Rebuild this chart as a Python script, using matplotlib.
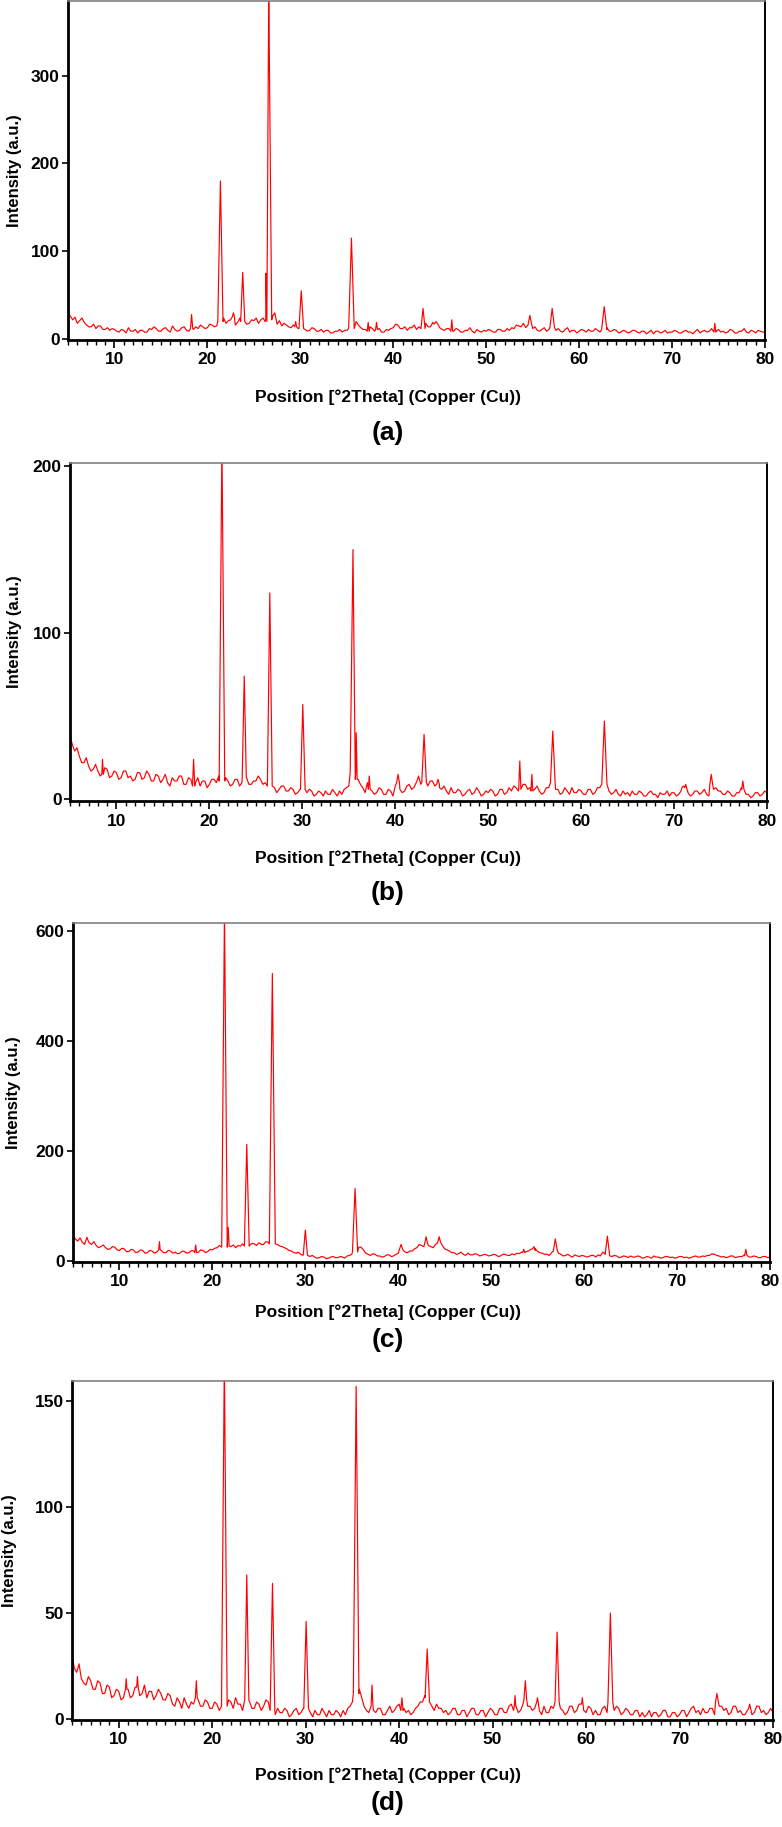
import matplotlib
matplotlib.use("Agg")
import matplotlib.pyplot as plt
import numpy as np
from matplotlib.ticker import MultipleLocator

plt.rcParams['font.family'] = ['Liberation Sans', 'DejaVu Sans']
plt.rcParams['font.weight'] = 'bold'

W, H = 782, 1827

# scan grid (deg 2theta), background counts read every 0.25 deg
two_theta = np.arange(5.0, 80.001, 0.25)

# ---- (a)
bg_a = [30, 26, 22, 25, 18, 21, 24, 19, 16, 14, 14, 17, 12, 15, 15, 11, 11, 13, 10, 12,
        11, 9, 8, 11, 10, 7, 13, 9, 9, 11, 7, 10, 10, 8, 8, 12, 11, 14, 12, 9,
        9, 12, 13, 10, 8, 15, 11, 9, 10, 13, 14, 10, 9, 12, 11, 14, 12, 16, 14, 12,
        13, 17, 16, 14, 15, 18, 20, 24, 18, 21, 22, 26, 16, 19, 24, 20, 19, 17, 18, 22,
        21, 24, 18, 22, 24, 20, 22, 28, 26, 30, 17, 21, 15, 18, 16, 14, 13, 16, 14, 12,
        12, 14, 11, 9, 10, 13, 12, 9, 9, 11, 8, 10, 10, 7, 7, 9, 9, 11, 8, 10,
        10, 13, 12, 18, 20, 16, 13, 11, 11, 9, 14, 12, 9, 11, 12, 8, 8, 11, 10, 12,
        13, 17, 16, 12, 12, 14, 10, 13, 13, 16, 11, 14, 15, 12, 18, 14, 14, 19, 17, 13,
        13, 11, 10, 12, 12, 9, 9, 12, 11, 8, 8, 10, 10, 13, 9, 7, 11, 9, 8, 10,
        9, 11, 10, 8, 8, 11, 11, 9, 9, 12, 10, 13, 12, 16, 15, 14, 18, 13, 16, 19,
        12, 14, 10, 9, 11, 13, 9, 11, 13, 10, 10, 12, 9, 8, 11, 13, 8, 10, 10, 7,
        9, 11, 10, 8, 11, 9, 9, 12, 10, 8, 8, 11, 13, 9, 9, 11, 10, 7, 8, 10,
        9, 7, 8, 10, 10, 8, 7, 9, 9, 6, 8, 10, 6, 9, 9, 7, 8, 10, 7, 8,
        8, 10, 9, 7, 7, 9, 10, 8, 8, 6, 9, 11, 7, 9, 10, 8, 9, 12, 8, 9,
        11, 8, 9, 7, 8, 11, 10, 7, 7, 9, 9, 12, 8, 7, 10, 9, 7, 10, 9, 8,
        8]
pos_a = [18.3, 21.4, 22.8, 23.8, 26.3, 26.6, 29.5, 30.1, 35.5, 37.3, 38.2,
         43.2, 44.6, 46.3, 54.7, 57.1, 62.7, 74.6]
hgt_a = [28, 180, 30, 76, 75, 400, 20, 55, 115, 19, 19,
         35, 20, 22, 27, 35, 37, 18]
wid_a = [0.12, 0.28, 0.1, 0.22, 0.1, 0.32, 0.1, 0.25, 0.3, 0.1, 0.1,
         0.22, 0.2, 0.1, 0.15, 0.25, 0.28, 0.1]

# ---- (b)
bg_b = [38, 33, 29, 31, 26, 22, 22, 25, 20, 17, 18, 21, 17, 14, 15, 19, 18, 13, 14, 17,
        16, 12, 13, 17, 17, 13, 14, 11, 12, 16, 16, 12, 13, 17, 15, 11, 11, 15, 14, 10,
        12, 15, 10, 8, 13, 11, 11, 14, 14, 9, 9, 13, 12, 8, 10, 13, 8, 11, 11, 7,
        9, 12, 12, 10, 14, 11, 10, 13, 11, 8, 9, 12, 12, 8, 10, 13, 13, 9, 9, 11,
        11, 14, 12, 9, 10, 7, 8, 5, 7, 4, 6, 8, 8, 5, 5, 7, 6, 3, 4, 6,
        6, 3, 4, 6, 5, 2, 3, 5, 4, 2, 5, 3, 3, 6, 4, 2, 5, 3, 6, 7,
        8, 11, 16, 12, 12, 9, 7, 4, 10, 6, 5, 3, 4, 7, 6, 3, 3, 6, 5, 2,
        8, 10, 6, 4, 5, 8, 9, 6, 7, 10, 12, 9, 10, 7, 8, 11, 11, 8, 9, 7,
        6, 8, 5, 3, 7, 4, 4, 6, 5, 2, 3, 5, 6, 3, 4, 7, 5, 2, 3, 5,
        4, 6, 5, 2, 3, 6, 6, 3, 4, 7, 5, 8, 7, 5, 6, 9, 9, 6, 7, 5,
        6, 8, 5, 3, 4, 7, 7, 4, 10, 6, 6, 3, 4, 7, 5, 3, 7, 4, 4, 6,
        5, 3, 3, 6, 6, 3, 4, 7, 7, 5, 9, 6, 5, 3, 4, 6, 3, 2, 5, 3,
        4, 2, 5, 3, 3, 5, 4, 2, 2, 4, 5, 3, 3, 1, 4, 3, 3, 5, 2, 4,
        4, 2, 3, 5, 7, 9, 4, 2, 3, 5, 5, 3, 4, 6, 3, 2, 9, 6, 7, 5,
        5, 3, 3, 5, 4, 2, 2, 4, 4, 7, 6, 3, 3, 1, 2, 4, 4, 2, 3, 5,
        4]
pos_b = [8.5, 18.3, 21.35, 23.75, 26.5, 30.05, 35.45, 35.8, 37.2, 40.3,
         42.5, 43.1, 44.6, 53.4, 54.7, 56.95, 62.5, 71.0, 74.0, 77.4]
hgt_b = [24, 24, 215, 74, 124, 57, 150, 40, 14, 15,
         14, 39, 12, 23, 15, 41, 47, 8, 15, 11]
wid_b = [0.08, 0.12, 0.3, 0.22, 0.26, 0.25, 0.3, 0.1, 0.1, 0.15,
         0.1, 0.25, 0.15, 0.12, 0.1, 0.25, 0.28, 0.15, 0.15, 0.12]

# ---- (c)
bg_c = [47, 40, 36, 42, 34, 30, 38, 33, 30, 35, 28, 24, 26, 29, 24, 21, 22, 26, 25, 20,
        19, 23, 22, 17, 17, 21, 20, 15, 16, 20, 19, 14, 15, 19, 18, 14, 16, 20, 19, 15,
        15, 19, 18, 14, 16, 13, 14, 18, 17, 14, 15, 19, 18, 15, 16, 20, 19, 15, 17, 21,
        20, 23, 24, 28, 28, 25, 30, 27, 26, 29, 24, 28, 27, 31, 30, 27, 28, 32, 31, 28,
        33, 30, 30, 35, 34, 30, 31, 28, 30, 27, 26, 24, 22, 19, 18, 15, 14, 16, 12, 10,
        12, 10, 8, 10, 7, 5, 6, 8, 7, 4, 5, 7, 8, 6, 6, 8, 7, 5, 9, 10,
        12, 16, 20, 25, 25, 20, 14, 12, 10, 13, 12, 9, 9, 7, 8, 11, 11, 8, 9, 12,
        14, 22, 20, 16, 15, 18, 18, 22, 24, 30, 28, 26, 32, 28, 26, 24, 30, 33, 34, 28,
        22, 20, 18, 15, 15, 12, 13, 16, 12, 10, 14, 11, 11, 13, 12, 9, 10, 12, 11, 9,
        10, 12, 11, 8, 9, 12, 12, 10, 10, 13, 11, 14, 13, 16, 15, 17, 18, 21, 22, 19,
        17, 15, 14, 12, 12, 10, 15, 13, 18, 14, 12, 9, 10, 12, 9, 7, 11, 9, 8, 10,
        9, 7, 8, 10, 10, 7, 11, 9, 16, 13, 12, 9, 8, 10, 9, 6, 7, 9, 8, 6,
        9, 7, 7, 9, 8, 5, 6, 8, 7, 5, 9, 7, 7, 5, 6, 8, 8, 6, 7, 5,
        6, 8, 8, 6, 7, 5, 6, 8, 9, 7, 7, 9, 8, 10, 10, 13, 12, 10, 9, 7,
        8, 6, 7, 9, 9, 6, 7, 8, 8, 11, 10, 7, 7, 9, 8, 6, 6, 8, 8, 6,
        7]
pos_c = [6.5, 14.3, 18.2, 21.3, 21.7, 23.7, 26.45, 30.0, 35.35, 40.3,
         43.0, 44.4, 53.5, 54.6, 56.9, 62.5, 74.0, 77.4]
hgt_c = [43, 35, 29, 640, 61, 212, 523, 56, 132, 30,
         44, 44, 21, 26, 40, 45, 12, 21]
wid_c = [0.1, 0.08, 0.1, 0.3, 0.1, 0.26, 0.32, 0.22, 0.28, 0.15,
         0.15, 0.15, 0.12, 0.15, 0.22, 0.24, 0.1, 0.12]

# ---- (d)
bg_d = [30, 24, 22, 26, 19, 17, 16, 20, 18, 14, 14, 18, 17, 12, 12, 16, 15, 10, 11, 14,
        13, 9, 10, 14, 14, 10, 11, 15, 15, 11, 12, 16, 10, 13, 13, 9, 11, 14, 12, 9,
        9, 12, 11, 7, 6, 10, 8, 5, 10, 7, 5, 8, 7, 10, 9, 6, 6, 9, 8, 5,
        5, 8, 7, 4, 9, 6, 6, 9, 8, 5, 10, 7, 7, 4, 6, 9, 8, 5, 5, 8,
        7, 4, 6, 9, 8, 5, 4, 2, 5, 3, 3, 5, 4, 1, 2, 4, 5, 2, 3, 5,
        5, 3, 3, 1, 4, 2, 2, 5, 3, 1, 4, 2, 2, 4, 3, 1, 4, 2, 5, 6,
        8, 10, 12, 14, 10, 6, 4, 3, 6, 4, 3, 5, 5, 2, 2, 4, 6, 3, 4, 6,
        7, 4, 5, 3, 4, 2, 3, 5, 6, 8, 8, 11, 10, 8, 6, 4, 7, 5, 5, 3,
        4, 2, 3, 5, 5, 2, 2, 4, 4, 1, 3, 5, 5, 2, 2, 4, 4, 1, 3, 5,
        4, 2, 2, 5, 5, 3, 3, 6, 7, 4, 6, 3, 4, 7, 9, 6, 6, 4, 5, 8,
        4, 2, 6, 3, 3, 6, 5, 2, 8, 5, 4, 2, 3, 6, 6, 3, 4, 7, 7, 4,
        3, 6, 5, 2, 4, 2, 2, 5, 6, 3, 8, 5, 4, 6, 5, 2, 3, 5, 4, 2,
        2, 4, 4, 1, 3, 1, 2, 4, 1, 3, 3, 1, 2, 4, 4, 1, 1, 3, 3, 1,
        2, 4, 4, 1, 3, 5, 6, 3, 4, 2, 5, 3, 3, 5, 5, 2, 8, 6, 6, 4,
        5, 2, 3, 6, 6, 3, 4, 2, 2, 4, 5, 2, 3, 6, 6, 3, 4, 2, 3, 5,
        3]
pos_d = [10.8, 12.0, 18.3, 21.3, 23.7, 26.45, 30.05, 35.4, 37.1, 40.3,
         43.0, 52.4, 53.5, 54.8, 56.9, 59.6, 62.6, 74.0, 77.5]
hgt_d = [19, 20, 18, 170, 68, 64, 46, 157, 16, 10,
         33, 11, 18, 10, 41, 10, 50, 12, 7]
wid_d = [0.08, 0.08, 0.1, 0.3, 0.22, 0.25, 0.25, 0.3, 0.1, 0.12,
         0.22, 0.08, 0.15, 0.08, 0.22, 0.08, 0.26, 0.15, 0.1]

tags = ['(a)', '(b)', '(c)', '(d)']
ymax = [385, 202, 615, 159.5]
ymin = [-1, -1, -2, -0.5]
ystep = [100, 100, 200, 50]

# layout in pixels: left, top, right, bottom
boxes = [(68, 1, 765, 340), (70, 463, 767, 801), (73, 923, 770, 1262), (72, 1381, 773, 1720)]
xlab_y = [397, 858, 1312, 1775]
tag_y = [433, 893, 1340, 1803]
ylab_x = [15, 15, 14, 10]


def pattern(bg, pos, hgt, wid):
    keep = np.ones(len(two_theta), bool)
    xs, ys = [], []
    for p, h, w in zip(pos, hgt, wid):
        keep &= ~((two_theta > p - w) & (two_theta < p + w))
        base = bg[int(round((p - 5) / 0.25))]
        xs += [p - w, p, p + w]
        ys += [base, h, base]
    xs = list(two_theta[keep]) + xs
    ys = list(np.array(bg)[keep]) + ys
    order = np.argsort(xs)
    return np.array(xs)[order], np.array(ys)[order]


data = [(bg_a, pos_a, hgt_a, wid_a), (bg_b, pos_b, hgt_b, wid_b),
        (bg_c, pos_c, hgt_c, wid_c), (bg_d, pos_d, hgt_d, wid_d)]

fig = plt.figure(figsize=(W / 100, H / 100), dpi=100)

for i in range(4):
    l, t, r, b = boxes[i]
    ax = fig.add_axes([l / W, 1 - b / H, (r - l) / W, (b - t) / H])
    x, y = pattern(*data[i])
    ax.plot(x, y, color='#ff0000', lw=0.85)
    ax.set_xlim(5, 80)
    ax.set_ylim(ymin[i], ymax[i])
    ax.xaxis.set_major_locator(MultipleLocator(10))
    ax.xaxis.set_minor_locator(MultipleLocator(1))
    ax.yaxis.set_major_locator(MultipleLocator(ystep[i]))
    ax.tick_params(axis='x', which='major', length=6, width=1.2, pad=3, labelsize=12.5)
    ax.tick_params(axis='x', which='minor', length=3.5, width=1)
    ax.tick_params(axis='y', which='major', length=4, width=1.2, pad=2, labelsize=12.5)
    for lab in ax.get_xticklabels() + ax.get_yticklabels():
        lab.set_fontweight('bold')
    ax.spines['left'].set_linewidth(2)
    ax.spines['bottom'].set_linewidth(2)
    ax.spines['right'].set_linewidth(1.4)
    ax.spines['top'].set_linewidth(1.2)
    ax.spines['top'].set_color('#808080')

    fig.text(388 / W, 1 - xlab_y[i] / H, 'Position [°2Theta] (Copper (Cu))',
             ha='center', va='center', fontsize=12.5, fontweight='bold')
    fig.text(388 / W, 1 - tag_y[i] / H, tags[i],
             ha='center', va='center', fontsize=19, fontweight='bold')
    fig.text(ylab_x[i] / W, 1 - ((t + b) / 2) / H, 'Intensity (a.u.)',
             rotation=90, ha='center', va='center', fontsize=12, fontweight='bold')

fig.savefig('out.png', dpi=100)
